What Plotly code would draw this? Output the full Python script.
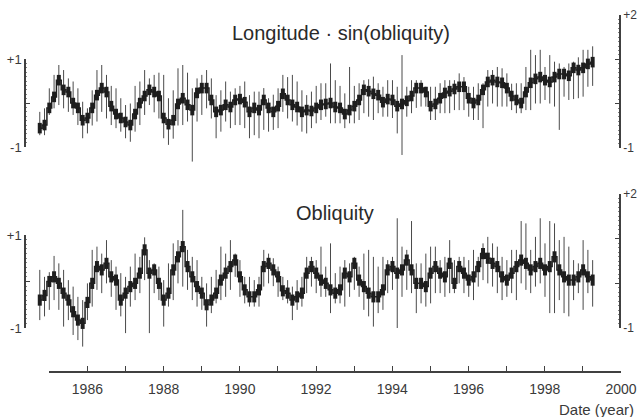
import plotly.graph_objects as go

# ---------------- data ----------------
t_start = 1984.75          # first sample (year)
t_step = 0.125             # sampling step (year)

top_core = [-0.56, -0.49, -0.10, 0.15, 0.53, 0.31, 0.26, 0.01, -0.10, -0.38,
            -0.33, -0.10, 0.19, 0.35, 0.26, -0.06, -0.24, -0.33, -0.42, -0.49,
            -0.24, 0.01, 0.17, 0.31, 0.26, 0.17, -0.33, -0.47, -0.38, -0.01,
            0.12, -0.03, -0.15, 0.24, 0.35, 0.35, 0.08, -0.19, -0.15, -0.03,
            -0.08, 0.08, 0.10, 0.03, -0.19, -0.10, -0.15, 0.08, -0.10, -0.19,
            -0.06, 0.22, 0.08, -0.03, -0.08, -0.19, -0.15, -0.17, -0.10,
            -0.03, -0.01, 0.01, -0.08, -0.10, -0.24, -0.15, -0.06, 0.08, 0.31,
            0.28, 0.22, 0.19, 0.03, 0.10, 0.08, -0.06, -0.01, 0.06, 0.17,
            0.35, 0.35, 0.26, -0.06, -0.01, 0.12, 0.24, 0.28, 0.33, 0.38,
            0.38, 0.12, 0.01, 0.08, 0.31, 0.49, 0.53, 0.49, 0.47, 0.35,
            0.17, 0.08, 0.01, 0.26, 0.47, 0.56, 0.60, 0.53, 0.49, 0.60,
            0.67, 0.67, 0.63, 0.81, 0.76, 0.81, 0.90, 0.94]
top_hi = [-0.19, -0.11, 0.345, 0.65, 0.875, 0.76, 0.57, 0.50, 0.345, 0.04,
          -0.11, 0.30, 0.76, 0.875, 0.65, 0.40, 0.345, 0.12, -0.035, 0.0,
          0.40, 0.50, 0.76, 0.57, 0.65, 0.70, 0.65, 0.12, 0.30, 0.80,
          0.875, 0.70, 0.345, 0.57, 0.65, 0.76, 0.57, 0.19, 0.30, 0.50,
          0.27, 0.345, 0.40, 0.50, 0.19, 0.27, 0.27, 0.35, 0.12, 0.20,
          0.345, 0.65, 0.60, 0.65, 0.50, 0.30, 0.19, 0.27, 0.40,
          0.46, 0.46, 0.91, 0.53, 0.40, 0.23, 0.83, 0.40, 0.46, 0.53,
          0.55, 0.61, 0.46, 0.38, 0.53, 0.53, 0.38, 1.10, 0.38, 0.53,
          0.53, 0.53, 0.38, 0.38, 0.38, 0.46, 0.53, 0.53, 0.53, 0.685,
          0.60, 0.38, 0.38, 0.46, 0.46, 0.76, 0.76, 0.83, 0.80, 0.685,
          0.45, 0.46, 0.46, 0.83, 1.22, 1.10, 1.22, 0.83, 1.10, 0.95,
          0.91, 0.83, 0.91, 0.95, 1.05, 1.22, 1.22, 1.30]
top_lo = [-0.72, -0.72, -0.26, -0.11, -0.035, -0.11, -0.19, -0.26, -0.49, -0.79,
          -0.68, -0.50, -0.41, -0.19, -0.34, -0.49, -0.56, -0.64, -0.79, -0.87,
          -0.64, -0.49, -0.26, -0.035, -0.20, -0.34, -0.79, -0.94, -0.80, -0.50,
          -0.49, -0.41, -1.32, -0.41, -0.26, -0.11, -0.34, -0.79, -0.64, -0.41,
          -0.56, -0.49, -0.49, -0.56, -0.79, -0.72, -0.79, -0.60, -0.64, -0.60,
          -0.56, -0.19, -0.34, -0.41, -0.50, -0.64, -0.68, -0.56, -0.45,
          -0.375, -0.30, -0.45, -0.45, -0.45, -0.56, -0.45, -0.45, -0.375, -0.22,
          -0.30, -0.375, -0.22, -0.30, -0.30, -0.33, -0.68, -1.17, -0.30, -0.22,
          -0.10, -0.07, -0.07, -0.375, -0.375, -0.22, -0.22, -0.22, -0.15, -0.15,
          -0.15, -0.30, -0.375, -0.375, -0.56, -0.07, 0.0, -0.07, -0.07, -0.07,
          -0.15, -0.22, -0.22, -0.15, -0.15, 0.0, 0.0, 0.08, 0.0, -0.07,
          -0.60, 0.155, 0.08, 0.10, 0.12, 0.155, 0.38, 0.40]

bot_core = [-0.40, -0.30, 0.0, 0.10, -0.04, -0.25, -0.40, -0.65, -0.83, -0.90,
            -0.45, -0.04, 0.32, 0.25, 0.39, 0.10, 0.03, -0.40, -0.25, -0.11,
            -0.04, 0.18, 0.68, 0.18, 0.25, -0.04, -0.40, -0.25, 0.25, 0.53,
            0.75, 0.32, 0.10, -0.11, -0.25, -0.50, -0.40, -0.25, 0.03, 0.18,
            0.32, 0.46, 0.10, -0.18, -0.33, -0.33, -0.18, 0.32, 0.39, 0.25,
            0.10, -0.20, -0.25, -0.40, -0.33, -0.25, 0.18, 0.32, 0.18,
            0.03, -0.04, -0.18, -0.25, -0.18, 0.18, 0.10, 0.39, 0.03, -0.11,
            -0.25, -0.33, -0.33, -0.18, 0.25, 0.32, 0.18, 0.25, 0.46, 0.25,
            -0.04, -0.04, -0.11, 0.18, 0.32, 0.18, 0.10, 0.39, -0.04, 0.32,
            0.18, 0.03, 0.10, 0.32, 0.60, 0.50, 0.39, 0.32, 0.10, 0.03,
            0.18, 0.32, 0.46, 0.39, 0.25, 0.32, 0.39, 0.25, 0.32, 0.53,
            0.25, 0.10, 0.03, 0.03, 0.10, 0.25, 0.10, 0.03]
bot_hi = [0.25, 0.10, 0.20, 0.55, 0.39, 0.25, 0.03, -0.11, -0.33, -0.40,
          -0.04, 0.68, 0.75, 0.60, 0.89, 0.46, 0.32, 0.18, 0.10, 0.32,
          0.60, 0.53, 0.95, 0.46, 0.39, 0.32, 0.03, 0.39, 0.82, 0.89,
          1.54, 0.68, 0.53, 0.46, 0.10, -0.04, 0.10, 0.25, 0.75, 0.60,
          0.89, 0.60, 0.46, 0.10, 0.10, 0.03, 0.10, 0.68, 0.60, 0.50,
          0.32, 0.10, 0.03, -0.11, 0.03, 0.10, 0.53, 0.53, 0.46,
          0.75, 0.32, 0.82, 0.18, 0.32, 0.46, 0.39, 0.53, 0.32, 0.60,
          0.68, 0.53, 0.32, 0.53, 0.46, 0.53, 1.36, 0.75, 0.68, 1.30,
          0.39, 0.39, 0.60, 0.75, 0.75, 0.46, 0.53, 0.89, 0.46, 0.53,
          0.53, 0.46, 0.68, 0.53, 0.82, 0.96, 0.82, 0.75, 0.53, 0.46,
          0.68, 0.68, 1.30, 1.25, 0.68, 0.96, 1.36, 0.82, 1.30, 1.25,
          0.89, 0.96, 0.75, 0.46, 0.39, 0.89, 0.68, 0.46]
bot_lo = [-0.83, -0.75, -0.61, -0.40, -0.61, -0.97, -0.83, -1.15, -1.26, -1.40,
          -0.83, -0.54, -0.18, -0.25, -0.04, -0.33, -0.61, -0.75, -1.11, -0.54,
          -0.40, -0.25, 0.03, -1.11, -0.25, -0.40, -0.97, -0.54, -0.40, -0.04,
          -0.11, -0.18, -0.40, -0.54, -0.61, -0.97, -0.68, -0.47, -0.40, -0.33,
          -0.18, 0.10, -0.33, -0.47, -0.54, -0.54, -0.54, -0.11, -0.04, -0.10,
          -0.33, -0.40, -0.47, -0.83, -0.61, -0.54, -0.25, -0.11, -0.25,
          -0.33, -0.33, -0.68, -0.47, -0.47, -0.54, -0.33, -0.18, -0.33, -0.61,
          -0.75, -0.97, -0.68, -0.61, -0.25, -0.18, -1.0, -0.33, -0.18, -0.25,
          -0.68, -0.47, -0.54, -0.47, -0.25, -0.25, -0.33, -0.25, -0.25, -0.04,
          -0.25, -0.33, -0.40, -0.11, 0.03, -0.04, -0.11, -0.25, -0.40, -0.33,
          -0.25, -0.40, -0.04, -0.18, -0.25, -0.11, -0.04, -0.33, -0.68, -0.68,
          -0.40, -0.68, -0.75, -0.40, -0.25, -0.61, -0.25, -0.54]

year_ticks = list(range(1985, 2001))
year_labels = [str(y) if y % 2 == 0 else "" for y in year_ticks]
left_ticks = [-1, 0, 1]
left_labels = ["-1", "", "+1"]
right_ticks = [-1, 0, 1, 2]
right_labels = ["-1", "", "", "+2"]
titles = ["Longitude · sin(obliquity)", "Obliquity"]
x_title = "Date (year)"

t = [t_start + t_step * i for i in range(len(top_core))]

# ---------------- figure ----------------
W, H = 638, 417
FONT = "Liberation Sans, Arial, sans-serif"
INK = "#1e1e1e"
SPIKE = "#4a4a4a"
TXT = "#3a3a3a"

fig = go.Figure()


def add_series(core, hi, lo, yax):
    sx, sy = [], []
    for ti, a, b in zip(t, lo, hi):
        sx += [ti, ti, None]
        sy += [a, b, None]
    fig.add_trace(go.Scatter(x=sx, y=sy, mode="lines", xaxis="x", yaxis=yax,
                             line=dict(color=SPIKE, width=1),
                             hoverinfo="skip", showlegend=False))
    fig.add_trace(go.Scatter(x=t, y=core, mode="lines", xaxis="x", yaxis=yax,
                             line=dict(color=INK, width=1.5, shape="hvh"),
                             error_y=dict(type="constant", value=0.12, width=0,
                                          thickness=4, color=INK),
                             showlegend=False))


add_series(top_core, top_hi, top_lo, "y")
add_series(bot_core, bot_hi, bot_lo, "y2")

# dummy traces so the decorative axes get drawn
for xa, ya in [("x", "y3"), ("x", "y4"), ("x", "y5"), ("x", "y6"), ("x2", "y")]:
    fig.add_trace(go.Scatter(x=[None], y=[None], xaxis=xa, yaxis=ya,
                             showlegend=False, hoverinfo="skip"))


def pfy(py):  # pixel row -> paper fraction
    return 1 - py / H


def pfx(px):
    return px / W


px_per_year = 38.13
x0_year = 1985 - 49.3 / px_per_year
x1_year = x0_year + W / px_per_year

dec_common = dict(showgrid=False, zeroline=False, showline=True,
                  linecolor="#404040", linewidth=1.5, ticks="inside",
                  tickcolor="#404040", ticklen=4, tickwidth=1.2,
                  fixedrange=True, automargin=False,
                  minor=dict(ticks="inside", ticklen=1.5, dtick=0.1,
                             tickcolor="#808080", tickwidth=0.8))

fig.update_layout(
    width=W, height=H, autosize=False,
    margin=dict(l=0, r=0, t=0, b=0, pad=0),
    paper_bgcolor="white", plot_bgcolor="rgba(0,0,0,0)",
    font=dict(family=FONT, color=TXT),
    xaxis=dict(domain=[0, 1], range=[x0_year, x1_year], visible=False,
               fixedrange=True, automargin=False),
    yaxis=dict(domain=[pfy(185), pfy(0)],
               range=[(103.5 - 185) / 44, 103.5 / 44], visible=False,
               fixedrange=True, automargin=False),
    yaxis2=dict(domain=[pfy(366), pfy(186)],
                range=[(281.5 - 366) / 46.5, (281.5 - 186) / 46.5],
                visible=False, anchor="x", fixedrange=True, automargin=False),
    yaxis3=dict(domain=[pfy(147), pfy(59)], range=[-1, 1], anchor="free",
                position=pfx(25), side="left", tickvals=left_ticks,
                ticktext=left_labels,
                tickfont=dict(family=FONT, size=13, color=TXT), **dec_common),
    yaxis4=dict(domain=[pfy(328), pfy(235)], range=[-1, 1], anchor="free",
                position=pfx(25), side="left", tickvals=left_ticks,
                ticktext=left_labels,
                tickfont=dict(family=FONT, size=13, color=TXT), **dec_common),
    yaxis5=dict(domain=[pfy(148), pfy(15)], range=[-1, 2], anchor="free",
                position=pfx(620), side="right", tickvals=right_ticks,
                ticktext=right_labels, ticklabelstandoff=0,
                tickfont=dict(family=FONT, size=12, color=TXT), **dec_common),
    yaxis6=dict(domain=[pfy(328), pfy(194)], range=[-1, 2], anchor="free",
                position=pfx(620), side="right", tickvals=right_ticks,
                ticktext=right_labels, ticklabelstandoff=0,
                tickfont=dict(family=FONT, size=12, color=TXT), **dec_common),
    xaxis2=dict(domain=[pfx(49.3), pfx(621)], range=[1985, 2000],
                anchor="free", position=pfy(372), side="bottom",
                showgrid=False, zeroline=False, showline=True,
                linecolor="#404040", linewidth=1.5, ticks="inside",
                tickcolor="#404040", ticklen=5, tickwidth=1.2,
                tickvals=year_ticks, ticktext=year_labels,
                tickfont=dict(family=FONT, size=14, color=TXT),
                ticklabelstandoff=4, fixedrange=True, automargin=False),
    annotations=[
        dict(text=titles[0], xref="paper", yref="paper", x=pfx(341),
             y=pfy(33), showarrow=False, xanchor="center", yanchor="middle",
             font=dict(family=FONT, size=20, color="#2a2a2a")),
        dict(text=titles[1], xref="paper", yref="paper", x=pfx(335),
             y=pfy(213), showarrow=False, xanchor="center", yanchor="middle",
             font=dict(family=FONT, size=20, color="#2a2a2a")),
        dict(text=x_title, xref="paper", yref="paper", x=pfx(636),
             y=pfy(409), showarrow=False, xanchor="right", yanchor="middle",
             font=dict(family=FONT, size=15, color=TXT)),
    ],
)

fig.write_html("out.html", config={"displayModeBar": False},
               post_script="document.body.style.margin='0';"
                           "document.body.style.overflow='hidden';")
